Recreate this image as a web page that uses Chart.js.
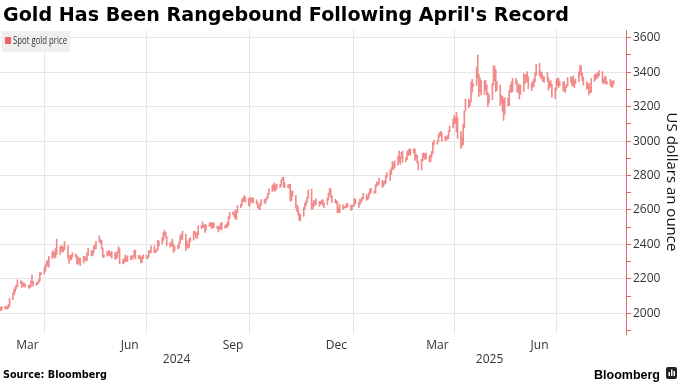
<!DOCTYPE html>
<html>
<head>
<meta charset="utf-8">
<style>
  html, body { margin: 0; padding: 0; background: #fff; }
  #wrap { width: 680px; height: 382px; position: relative; }
</style>
</head>
<body>
<div id="wrap"><canvas id="gold"></canvas></div>

<script src="https://cdn.jsdelivr.net/npm/chart.js"></script>

<script>
  // daily spot gold range, one line per trading week (Mon-Fri), starting Thu 22 Feb 2024
  const firstDay = '2024-02-22';
  const lastAxisDay = '2025-09-01';

  const lows = [
    2016, 2020,
    2025, 2026, 2025, 2030, 2041,
    2079, 2108, 2123, 2142, 2155,
    2170, 2150, 2156, 2155, 2152,
    2146, 2147, 2153, 2170, 2158,
    2163, 2168, 2175, 2190, 2225,
    2228, 2245, 2270, 2280, 2268,
    2320, 2330, 2320, 2325, 2342,
    2340, 2365, 2355, 2358, 2370,
    2320, 2291, 2311, 2310, 2326,
    2325, 2285, 2285, 2290, 2277,
    2292, 2310, 2303, 2307, 2336,
    2333, 2335, 2354, 2373, 2375,
    2413, 2409, 2374, 2325, 2325,
    2332, 2340, 2334, 2332, 2320,
    2314, 2316, 2325, 2353, 2287,
    2287, 2293, 2300, 2301, 2302,
    2312, 2312, 2322, 2328, 2316,
    2319, 2315, 2293, 2296, 2319,
    2319, 2318, 2328, 2350, 2353,
    2351, 2352, 2360, 2368, 2392,
    2404, 2421, 2451, 2440, 2393,
    2384, 2390, 2390, 2353, 2364,
    2374, 2380, 2407, 2430, 2430,
    2364, 2384, 2377, 2382, 2415,
    2425, 2460, 2440, 2433, 2455,
    2492, 2497, 2500, 2470, 2484,
    2505, 2507, 2492, 2500, 2496,
    2491, 2472, 2488, 2489, 2485,
    2494, 2497, 2500, 2510, 2550,
    2573, 2561, 2547, 2546, 2585,
    2613, 2625, 2650, 2650, 2645,
    2625, 2624, 2646, 2645, 2640,
    2635, 2615, 2605, 2603, 2628,
    2640, 2639, 2658, 2668, 2690,
    2708, 2718, 2708, 2713, 2725,
    2731, 2740, 2771, 2730, 2730,
    2730, 2727, 2652, 2655, 2680,
    2610, 2590, 2572, 2541, 2537,
    2563, 2605, 2624, 2644, 2668,
    2605, 2605, 2620, 2627, 2634,
    2622, 2632, 2636, 2626, 2613,
    2631, 2658, 2690, 2673, 2644,
    2643, 2637, 2585, 2583, 2585,
    2603, 2610, 2613, 2614, 2617,
    2597, 2604, 2620, 2624, 2636,
    2615, 2630, 2642, 2655, 2665,
    2656, 2660, 2670, 2694, 2700,
    2696, 2700, 2737, 2744, 2750,
    2730, 2738, 2749, 2755, 2790,
    2772, 2807, 2835, 2834, 2848,
    2860, 2880, 2865, 2900, 2877,
    2880, 2892, 2915, 2922, 2918,
    2930, 2888, 2900, 2873, 2833,
    2832, 2885, 2905, 2894, 2897,
    2880, 2880, 2906, 2930, 2978,
    2982, 2998, 3026, 3030, 2999,
    3002, 3005, 3012, 3015, 3055,
    3077, 3100, 3105, 3054, 3015,
    2957, 2970, 2980, 3076, 3174,
    3193, 3205, 3228, 3284, 3318,
    3325, 3367, 3260, 3286, 3268,
    3271, 3297, 3268, 3202, 3220,
    3240, 3325, 3350, 3286, 3296,
    3208, 3222, 3173, 3120, 3155,
    3206, 3205, 3285, 3282, 3287,
    3331, 3285, 3282, 3245, 3271,
    3288, 3333, 3343, 3344, 3305,
    3293, 3312, 3318, 3345, 3383,
    3380, 3367, 3363, 3347, 3340,
    3347, 3295, 3312, 3320, 3255,
    3247, 3297, 3325, 3311, 3322,
    3296, 3287, 3283, 3310, 3322,
    3341, 3320, 3320, 3310, 3335,
    3345, 3383, 3381, 3351, 3325,
    3301, 3308, 3268, 3281, 3282,
    3346, 3358, 3366, 3367, 3380,
    3340, 3332, 3342, 3331, 3330,
    3323, 3314, 3312, 3329
  ];

  const highs = [
    2035, 2041,
    2039, 2041, 2039, 2052, 2088,
    2119, 2141, 2153, 2165, 2195,
    2189, 2184, 2178, 2175, 2167,
    2164, 2163, 2188, 2222, 2186,
    2176, 2184, 2196, 2236, 2236,
    2266, 2282, 2305, 2305, 2331,
    2354, 2365, 2354, 2378, 2431,
    2385, 2392, 2392, 2385, 2417,
    2392, 2335, 2336, 2340, 2352,
    2346, 2335, 2326, 2319, 2320,
    2331, 2331, 2324, 2351, 2378,
    2365, 2362, 2391, 2397, 2418,
    2450, 2428, 2424, 2380, 2340,
    2358, 2364, 2362, 2351, 2360,
    2354, 2350, 2358, 2388, 2375,
    2313, 2317, 2339, 2327, 2335,
    2334, 2333, 2337, 2365, 2368,
    2336, 2336, 2325, 2330, 2339,
    2338, 2333, 2365, 2363, 2392,
    2393, 2367, 2375, 2424, 2420,
    2440, 2470, 2483, 2470, 2446,
    2410, 2413, 2431, 2402, 2390,
    2395, 2413, 2451, 2462, 2477,
    2458, 2420, 2400, 2432, 2440,
    2475, 2477, 2469, 2466, 2509,
    2510, 2531, 2513, 2515, 2514,
    2521, 2528, 2527, 2524, 2525,
    2507, 2503, 2506, 2523, 2529,
    2509, 2518, 2529, 2560, 2586,
    2589, 2584, 2600, 2594, 2625,
    2634, 2664, 2670, 2685, 2673,
    2665, 2673, 2670, 2668, 2672,
    2660, 2645, 2625, 2636, 2661,
    2660, 2664, 2676, 2696, 2723,
    2740, 2750, 2758, 2741, 2750,
    2749, 2775, 2790, 2790, 2760,
    2746, 2750, 2749, 2710, 2710,
    2685, 2630, 2618, 2582, 2575,
    2615, 2639, 2652, 2674, 2717,
    2721, 2638, 2656, 2650, 2665,
    2650, 2650, 2658, 2659, 2643,
    2668, 2697, 2726, 2722, 2684,
    2662, 2655, 2650, 2614, 2633,
    2630, 2620, 2621, 2638, 2637,
    2628, 2627, 2630, 2665, 2665,
    2643, 2662, 2665, 2673, 2697,
    2692, 2680, 2700, 2724, 2725,
    2712, 2746, 2763, 2759, 2785,
    2772, 2765, 2770, 2800, 2817,
    2830, 2845, 2882, 2870, 2886,
    2911, 2942, 2910, 2935, 2942,
    2904, 2937, 2947, 2955, 2953,
    2956, 2953, 2925, 2918, 2880,
    2895, 2928, 2930, 2927, 2930,
    2914, 2922, 2940, 2991, 3005,
    3002, 3038, 3050, 3057, 3048,
    3030, 3024, 3032, 3060, 3087,
    3128, 3149, 3136, 3167, 3136,
    3055, 3023, 3099, 3176, 3245,
    3245, 3232, 3344, 3358, 3332,
    3430, 3500, 3386, 3367, 3352,
    3351, 3352, 3327, 3282, 3269,
    3335, 3437, 3435, 3414, 3345,
    3325, 3265, 3260, 3246, 3252,
    3250, 3295, 3325, 3345, 3365,
    3363, 3350, 3325, 3330, 3325,
    3392, 3385, 3385, 3403, 3375,
    3338, 3348, 3360, 3398, 3446,
    3452, 3403, 3400, 3379, 3375,
    3398, 3367, 3345, 3350, 3330,
    3309, 3358, 3365, 3365, 3345,
    3343, 3345, 3317, 3330, 3369,
    3375, 3366, 3377, 3350, 3361,
    3402, 3439, 3438, 3396, 3373,
    3345, 3334, 3335, 3315, 3363,
    3385, 3390, 3392, 3398, 3409,
    3404, 3358, 3374, 3375, 3345,
    3358, 3345, 3350, 3351
  ];

  const monthLabels = ['Mar', 'Jun', 'Sep', 'Dec', 'Mar', 'Jun'];
  const monthLabelDays = ['2024-03-17', '2024-06-16', '2024-09-16', '2024-12-17', '2025-03-17', '2025-06-16'];
  const monthGridDays = ['2024-04-01', '2024-07-01', '2024-10-01', '2025-01-01', '2025-04-01', '2025-07-01'];
  const yearLabels = ['2024', '2025'];
  const yearStarts = ['2024-01-01', '2025-01-01', '2026-01-01'];
  const yTickValues = [1900, 2000, 2100, 2200, 2300, 2400, 2500, 2600, 2700, 2800,
                       2900, 3000, 3100, 3200, 3300, 3400, 3500, 3600];

  const RED = '#f28a8a';
  const AXIS_RED = '#e8646c';

  const dayNum = s => Date.parse(s + 'T00:00:00Z') / 864e5;

  const tradingDays = [];
  for (let d = dayNum(firstDay); tradingDays.length < lows.length; d++) {
    const wd = new Date(d * 864e5).getUTCDay();
    if (wd !== 0 && wd !== 6) tradingDays.push(d);
  }

  const xMin = dayNum(firstDay) - 0.5;
  const xMax = dayNum(lastAxisDay);

  // centre of the visible part of each year
  const yearLabelDays = yearLabels.map((y, i) => {
    const a = Math.max(xMin, dayNum(yearStarts[i]));
    const b = Math.min(xMax, dayNum(yearStarts[i + 1]));
    return (a + b) / 2;
  });

  const bars = tradingDays.map((d, i) => ({ x: d, y: [lows[i], highs[i]] }));

  // draw text stretched or squeezed to a given width
  function fitText(c, text, x, y, width, font) {
    c.font = font;
    const k = width / c.measureText(text).width;
    c.save();
    c.translate(x, y);
    c.scale(k, 1);
    c.fillText(text, 0, 0);
    c.restore();
  }

  const decor = {
    id: 'decor',
    afterDraw(chart) {
      const c = chart.ctx;
      c.save();
      c.textBaseline = 'alphabetic';
      c.textAlign = 'left';

      c.fillStyle = '#000';
      fitText(c, "Gold Has Been Rangebound Following April's Record", 3, 21, 566, 'bold 20px "DejaVu Sans"');

      // legend
      c.fillStyle = '#efefef';
      c.fillRect(2, 31, 68, 21);
      c.fillStyle = '#f06464';
      c.fillRect(5, 37, 6, 7);
      c.fillStyle = '#333';
      c.textBaseline = 'middle';
      fitText(c, 'Spot gold price', 13, 41.5, 54, '10.5px "Open Sans"');

      c.textBaseline = 'alphabetic';
      c.fillStyle = '#000';
      fitText(c, 'Source: Bloomberg', 3, 378, 104, 'bold 11px "DejaVu Sans"');
      fitText(c, 'Bloomberg', 594, 379, 66, 'bold 13px "Liberation Sans"');

      // logo glyph
      c.fillStyle = '#222';
      c.beginPath();
      c.roundRect(666, 367, 11, 12, 2);
      c.fill();
      c.fillStyle = '#fff';
      c.fillRect(668.5, 372, 1.5, 4);
      c.fillRect(671, 369.5, 1.5, 6.5);
      c.fillRect(673.5, 371, 1.5, 5);
      c.restore();
    }
  };

  const ctx = document.getElementById('gold');

  new Chart(ctx, {
    type: 'bar',
    data: {
      datasets: [{
        label: 'Spot gold price',
        data: bars,
        backgroundColor: RED,
        borderWidth: 0,
        barThickness: 1,
        grouped: false
      }]
    },
    options: {
      responsive: true,
      maintainAspectRatio: false,
      animation: false,
      layout: { padding: { top: 30, bottom: 16, left: 0, right: 0 } },
      plugins: {
        legend: { display: false },
        tooltip: { enabled: false }
      },
      scales: {
        x: {
          type: 'linear',
          min: xMin,
          max: xMax,
          offset: false,
          weight: 0,
          afterBuildTicks: s => { s.ticks = monthGridDays.map(d => ({ value: dayNum(d) })); },
          afterFit: s => { s.height = 0; },
          ticks: { display: false },
          grid: { color: '#e6e6e6', offset: false, drawTicks: false },
          border: { display: false }
        },
        xm: {
          type: 'linear',
          position: 'bottom',
          min: xMin,
          max: xMax,
          offset: false,
          weight: 1,
          afterBuildTicks: s => { s.ticks = monthLabelDays.map(d => ({ value: dayNum(d) })); },
          afterFit: s => { s.height = 18; },
          ticks: {
            autoSkip: false, maxRotation: 0, padding: 4, color: '#333',
            font: { family: 'Open Sans', size: 12 },
            callback: (v, i) => monthLabels[i]
          },
          grid: { display: false, drawTicks: false, offset: false },
          border: { display: false }
        },
        xy: {
          type: 'linear',
          position: 'bottom',
          min: xMin,
          max: xMax,
          offset: false,
          weight: 2,
          afterBuildTicks: s => { s.ticks = yearLabelDays.map(d => ({ value: d })); },
          afterFit: s => { s.height = 14; },
          ticks: {
            autoSkip: false, maxRotation: 0, padding: 0, color: '#333',
            font: { family: 'Open Sans', size: 12 },
            callback: (v, i) => yearLabels[i]
          },
          grid: { display: false, drawTicks: false, offset: false },
          border: { display: false }
        },
        y: {
          position: 'right',
          min: 1880,
          max: 3645,
          afterBuildTicks: s => { s.ticks = yTickValues.map(v => ({ value: v })); },
          afterFit: s => { s.width = 54; },
          ticks: {
            padding: 2, color: '#333',
            font: { family: 'Open Sans', size: 12 },
            callback: v => (v % 200 === 0 ? v : '')
          },
          grid: {
            color: c => (c.tick && c.tick.value % 200 === 0 ? '#e6e6e6' : 'rgba(0,0,0,0)'),
            tickColor: AXIS_RED,
            tickLength: 5
          },
          border: { color: AXIS_RED },
          title: {
            display: true,
            text: 'US dollars an ounce',
            color: '#111',
            padding: 0,
            font: { family: 'Open Sans', size: 15 }
          }
        }
      }
    },
    plugins: [decor]
  });
</script>
</body>
</html>
